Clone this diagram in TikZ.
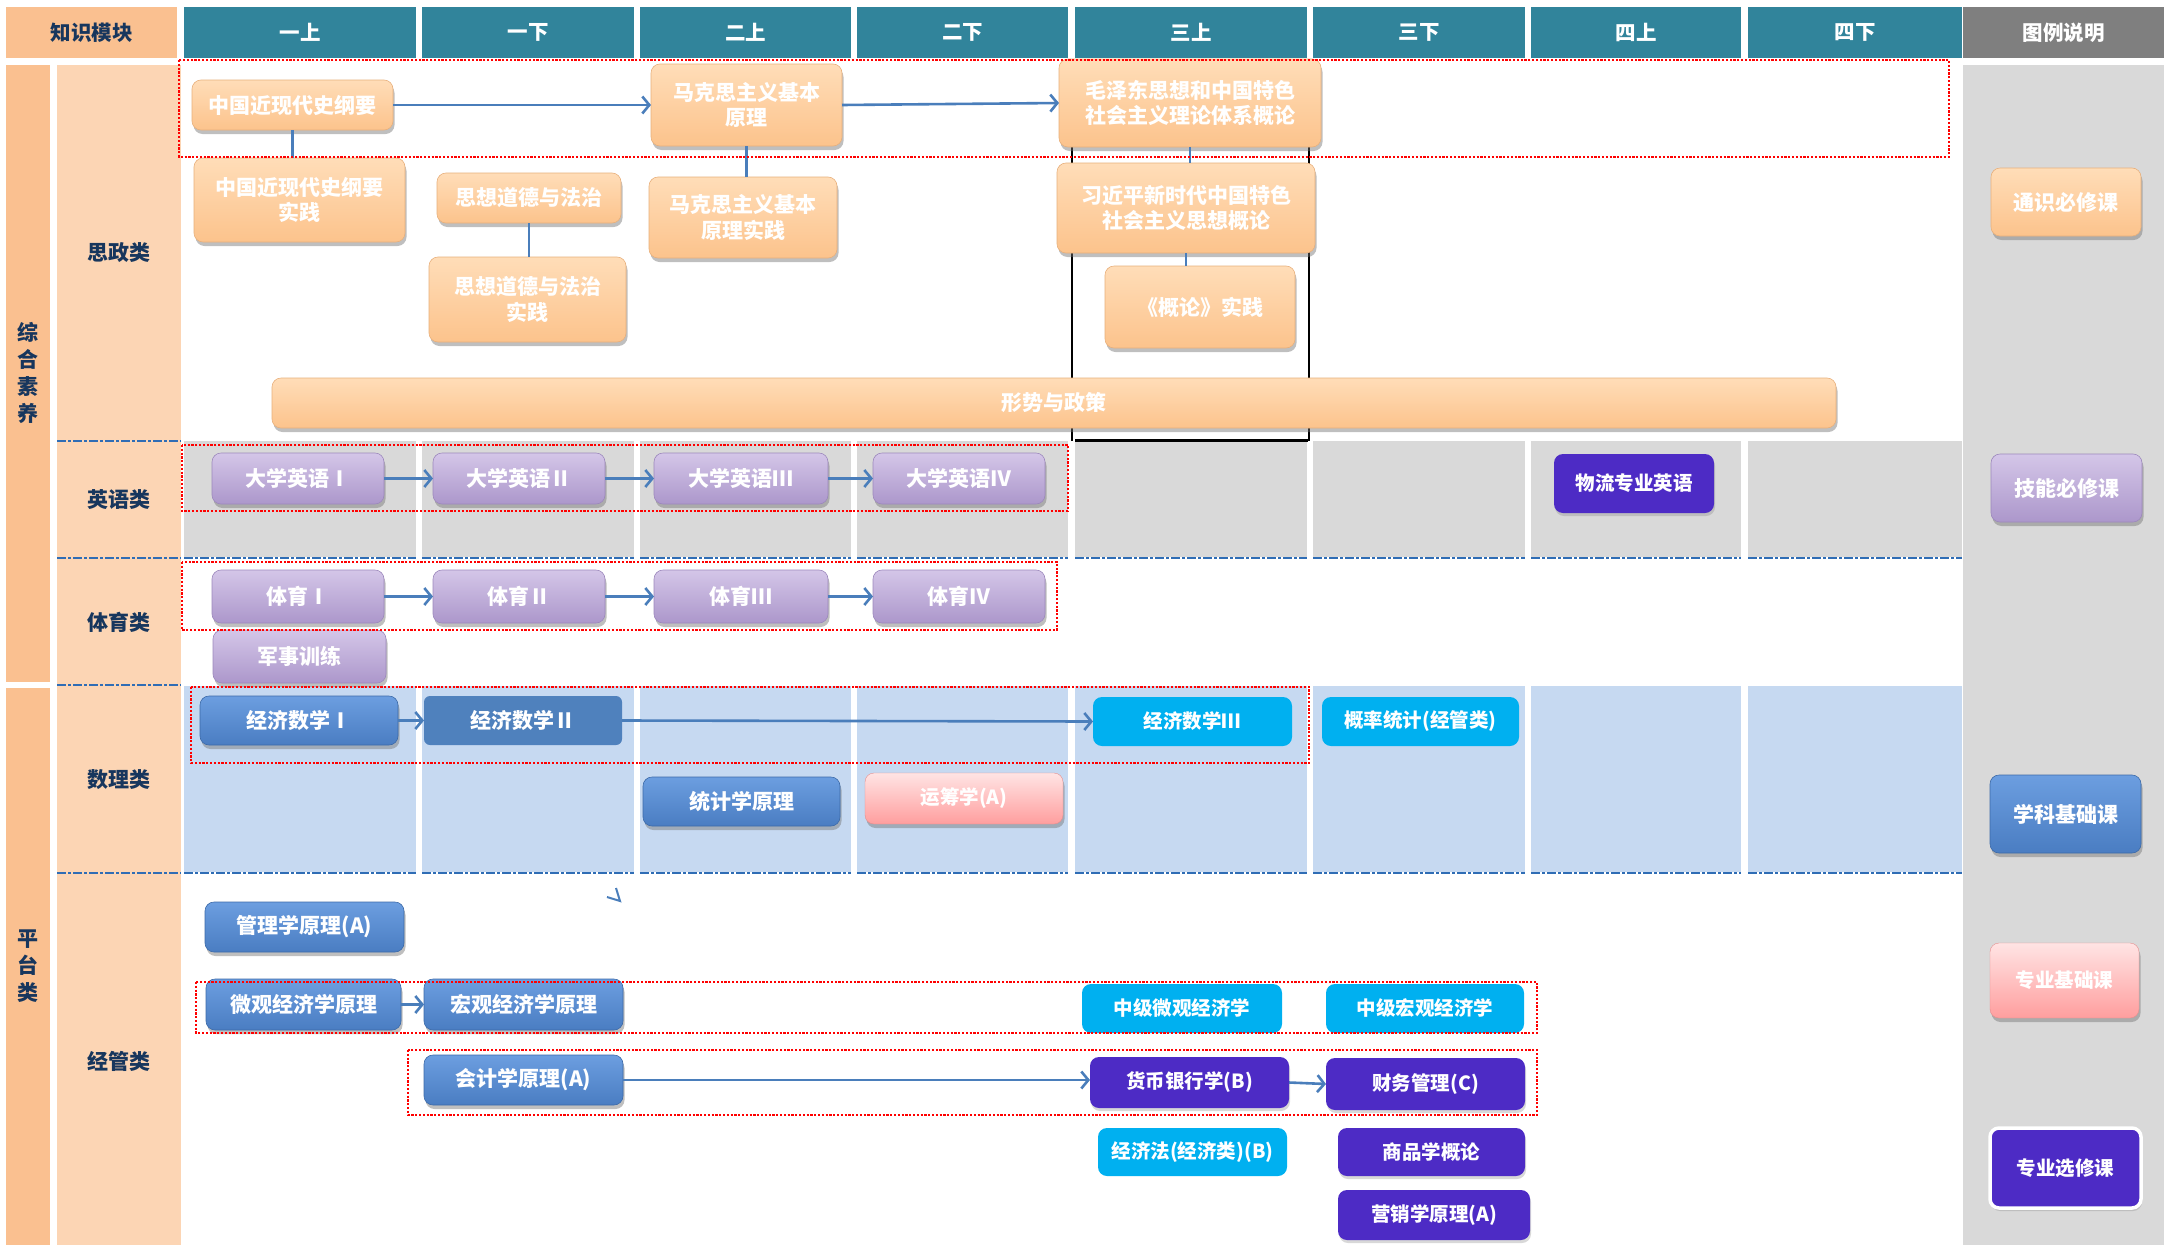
\documentclass[tikz,border=0pt]{standalone}
\usepackage{fontspec}
\setmainfont{Noto Sans CJK SC}
\usetikzlibrary{arrows.meta,shadows,calc}
\definecolor{hdrTeal}{HTML}{31849B}
\definecolor{hdrGray}{HTML}{7F7F7F}
\definecolor{stripOr}{HTML}{FAC090}
\definecolor{lblCol}{HTML}{FCD5B4}
\definecolor{navy}{HTML}{17365D}
\definecolor{bgGray}{HTML}{D9D9D9}
\definecolor{bgBlue}{HTML}{C6D9F1}
\definecolor{orT}{HTML}{FFDDB8}
\definecolor{orB}{HTML}{FCC38C}
\definecolor{orD}{HTML}{E8B07C}
\definecolor{lvT}{HTML}{D4C6E8}
\definecolor{lvB}{HTML}{AC97CB}
\definecolor{lvD}{HTML}{9C88BC}
\definecolor{blT}{HTML}{6C9EE0}
\definecolor{blB}{HTML}{4A7DC2}
\definecolor{blD}{HTML}{3C6AA8}
\definecolor{blFlat}{HTML}{4F81BD}
\definecolor{cyanC}{HTML}{00B0F0}
\definecolor{purC}{HTML}{4D2BC5}
\definecolor{pkT}{HTML}{FFE4E4}
\definecolor{pkB}{HTML}{FF9E9E}
\definecolor{connC}{HTML}{4A7EBB}
\definecolor{dashC}{HTML}{2F6DB5}
\newcommand\crsfont{\fontsize{21}{25.5}\selectfont\bfseries}
\newcommand\smlfont{\fontsize{19.5}{24}\selectfont\bfseries}
\newcommand\hdrfont{\fontsize{20.5}{24}\selectfont\bfseries}
\newcommand\lblfont{\fontsize{21}{27}\selectfont\bfseries}
\newcommand\crs[7]{\node[#1, minimum width={(#5-#3)*1pt}, minimum height={(#6-#4)*1pt}] (#2) at ({(#3+#5)/2},{(#4+#6)/2}) {#7};}
\begin{document}
\begin{tikzpicture}[x=1pt,y=-1pt,
  base/.style={rounded corners=9pt, inner sep=0pt, outer sep=0pt, align=center, text=white, font=\crsfont},
  shd/.style={drop shadow={shadow xshift=1.5pt, shadow yshift=-4pt, opacity=0.45, fill=black!55}},
  orangeC/.style={base, shd, top color=orT, bottom color=orB, draw=orD, line width=0.6pt},
  lavC/.style={base, shd, top color=lvT, bottom color=lvB, draw=lvD, line width=0.6pt},
  blueC/.style={base, shd, top color=blT, bottom color=blB, draw=blD, line width=0.6pt},
  blueFlat/.style={base, rounded corners=6pt, fill=blFlat},
  cyanC/.style={base, fill=cyanC, font=\smlfont},
  purC/.style={base, fill=purC, font=\smlfont, drop shadow={shadow xshift=1pt, shadow yshift=-3pt, opacity=0.3, fill=black!50}},
  pinkC/.style={base, shd, top color=pkT, bottom color=pkB, draw=pkB!90!black, line width=0.4pt, font=\smlfont},
  hdr/.style={fill=hdrTeal, text=white, font=\hdrfont, inner sep=0pt, outer sep=0pt},
  lbl/.style={text=navy, font=\lblfont, align=center, inner sep=0pt},
  conn/.style={draw=connC, line width=2.6pt},
  arr/.style={conn, -{Straight Barb[length=7pt,width=17pt]}},
  redbox/.style={draw=red, line width=2.6pt, dash pattern=on 2.2pt off 1.6pt},
  rowdash/.style={draw=dashC, line width=2.4pt, dash pattern=on 9pt off 2pt on 3pt off 2pt}
]
\fill[white] (0,0) rectangle (2164,1245);
\useasboundingbox (0,0) rectangle (2164,1245);

% ---------- header ----------
\node[fill=stripOr, text=navy, font=\hdrfont, inner sep=0pt, minimum width=171pt, minimum height=51pt] (hk) at (91.5,32.5) {知识模块};
\foreach \a/\b/\t in {184/416/一上, 422/634/一下, 640/851/二上, 857/1068/二下, 1075/1307/三上, 1313/1525/三下, 1531/1741/四上, 1748/1962/四下}{
  \node[hdr, minimum width={(\b-\a)*1pt}, minimum height=51pt] (h\a) at ({(\a+\b)/2},32.5) {\t};
}
\node[hdr, fill=hdrGray, minimum width=201pt, minimum height=51pt] (hl) at (2063.5,32.5) {图例说明};

% ---------- left strips ----------
\fill[stripOr] (6,65) rectangle (50,682);
\fill[stripOr] (6,688) rectangle (50,1245);
\fill[lblCol] (57,65) rectangle (181,1245);
\fill[bgGray] (1963,65) rectangle (2164,1245);

% ---------- cell backgrounds ----------
\foreach \a/\b in {184/416, 422/634, 640/851, 857/1068, 1075/1307, 1313/1525, 1531/1741, 1748/1962}{
  \fill[bgGray] (\a,441) rectangle (\b,557);
  \fill[bgBlue] (\a,686) rectangle (\b,872);
  \draw[rowdash] (\a,558) -- (\b,558);
  \draw[rowdash] (\a,873) -- (\b,873);
}
\foreach \yy in {441,558,685,873}{ \draw[rowdash] (57,\yy) -- (181,\yy); }

% ---------- labels ----------
\node[lbl] (lzh) at (28,373) {综\\合\\素\\养};
\node[lbl] (lpt) at (28,966) {平\\台\\类};
\node[lbl] (l1) at (119,253) {思政类};
\node[lbl] (l2) at (119,500) {英语类};
\node[lbl] (l3) at (119,622) {体育类};
\node[lbl] (l4) at (119,780) {数理类};
\node[lbl] (l5) at (119,1061) {经管类};

% ---------- black frame in 三上 ----------
\draw[black, line width=1.3pt] (1072,147) -- (1072,441);
\draw[black, line width=1.3pt] (1309,147) -- (1309,441);
\draw[black, line width=3pt] (1075,440) -- (1308,440);

% ---------- 思政 ----------
\crs{orangeC}{gy}{192}{80}{393}{130}{中国近现代史纲要}
\crs{orangeC}{my}{651}{64}{842}{146}{马克思主义基本\\原理}
\crs{orangeC}{mao}{1059}{59}{1321}{147}{毛泽东思想和中国特色\\社会主义理论体系概论}
\crs{orangeC}{gys}{194}{158}{405}{242}{中国近现代史纲要\\实践}
\crs{orangeC}{sx}{437}{173}{621}{223}{思想道德与法治}
\crs{orangeC}{sxs}{429}{257}{626}{342}{思想道德与法治\\实践}
\crs{orangeC}{mys}{649}{177}{837}{258}{马克思主义基本\\原理实践}
\crs{orangeC}{xi}{1057}{163}{1315}{253}{习近平新时代中国特色\\社会主义思想概论}
\crs{orangeC}{gl}{1105}{266}{1295}{348}{《概论》实践}
\crs{orangeC}{xs}{272}{378}{1836}{428}{形势与政策}

\draw[arr] (gy.east) -- (my.west);
\draw[arr] (my.east) -- (mao.west);
\draw[conn] (gy.south) -- (gy.south |- gys.north);
\draw[conn] (sx.south) -- (sx.south |- sxs.north);
\draw[conn] (my.south) -- (my.south |- mys.north);
\draw[conn] (mao.south) -- (mao.south |- xi.north);
\draw[conn] (xi.south) -- (xi.south |- gl.north);

% ---------- 英语 ----------
\crs{lavC}{e1}{212}{453}{384}{504}{大学英语Ⅰ}
\crs{lavC}{e2}{433}{453}{605}{504}{大学英语Ⅱ}
\crs{lavC}{e3}{654}{453}{828}{504}{大学英语Ⅲ}
\crs{lavC}{e4}{873}{453}{1045}{504}{大学英语Ⅳ}
\crs{purC}{wl}{1554}{454}{1714}{513}{物流专业英语}
\draw[arr] (e1.east) -- (e2.west);
\draw[arr] (e2.east) -- (e3.west);
\draw[arr] (e3.east) -- (e4.west);

% ---------- 体育 ----------
\crs{lavC}{p1}{212}{570}{384}{623}{体育Ⅰ}
\crs{lavC}{p2}{433}{570}{605}{623}{体育Ⅱ}
\crs{lavC}{p3}{654}{570}{828}{623}{体育Ⅲ}
\crs{lavC}{p4}{873}{570}{1045}{623}{体育Ⅳ}
\crs{lavC}{js}{213}{630}{386}{683}{军事训练}
\draw[arr] (p1.east) -- (p2.west);
\draw[arr] (p2.east) -- (p3.west);
\draw[arr] (p3.east) -- (p4.west);

% ---------- 数理 ----------
\crs{blueC}{m1}{200}{696}{398}{745}{经济数学Ⅰ}
\crs{blueFlat}{m2}{424}{696}{622}{745}{经济数学Ⅱ}
\crs{cyanC}{m3}{1093}{697}{1292}{746}{经济数学Ⅲ}
\crs{cyanC}{gltj}{1322}{697}{1519}{746}{概率统计(经管类)}
\crs{blueC}{tj}{643}{777}{840}{826}{统计学原理}
\crs{pinkC}{yc}{865}{773}{1063}{824}{运筹学(A)}
\draw[arr] (m1.east) -- (m2.west);
\draw[arr] (m2.east) -- (m3.west);

% ---------- 经管 ----------
\draw[conn, line width=2pt] (607,897) -- (620,901) -- (616,888);
\crs{blueC}{glx}{205}{902}{404}{952}{管理学原理(A)}
\crs{blueC}{wg}{206}{979}{401}{1030}{微观经济学原理}
\crs{blueC}{hg}{424}{979}{623}{1030}{宏观经济学原理}
\crs{cyanC}{zw}{1082}{984}{1282}{1033}{中级微观经济学}
\crs{cyanC}{zh}{1326}{984}{1524}{1033}{中级宏观经济学}
\crs{blueC}{kj}{424}{1055}{623}{1105}{会计学原理(A)}
\crs{purC}{hb}{1090}{1057}{1289}{1108}{货币银行学(B)}
\crs{purC}{cw}{1326}{1058}{1525}{1110}{财务管理(C)}
\crs{cyanC}{jjf}{1098}{1128}{1287}{1176}{经济法(经济类)(B)}
\crs{purC}{sp}{1338}{1128}{1525}{1176}{商品学概论}
\crs{purC}{yx}{1338}{1190}{1530}{1240}{营销学原理(A)}
\draw[arr] (wg.east) -- (hg.west);
\draw[arr] (kj.east) -- (kj.east -| hb.west);
\draw[arr] (hb.east) -- (cw.west);

% ---------- legend ----------
\crs{orangeC}{L1}{1991}{168}{2141}{236}{通识必修课}
\crs{lavC}{L2}{1991}{454}{2142}{522}{技能必修课}
\crs{blueC}{L3}{1990}{775}{2141}{853}{学科基础课}
\crs{pinkC}{L4}{1990}{943}{2139}{1018}{专业基础课}
\crs{purC}{L5}{1990}{1128}{2141}{1208}{专业选修课}
\draw[white, line width=3.5pt, rounded corners=9pt] (L5.north west) rectangle (L5.south east);

% ---------- red dotted groups ----------
\draw[redbox] (179,60) rectangle (1949,157);
\draw[redbox] (182,445) rectangle (1068,511);
\draw[redbox] (182,562) rectangle (1057,630);
\draw[redbox] (191,687) rectangle (1309,763);
\draw[redbox] (196,982) rectangle (1537,1033);
\draw[redbox] (408,1050) rectangle (1537,1115);
\end{tikzpicture}
\end{document}
